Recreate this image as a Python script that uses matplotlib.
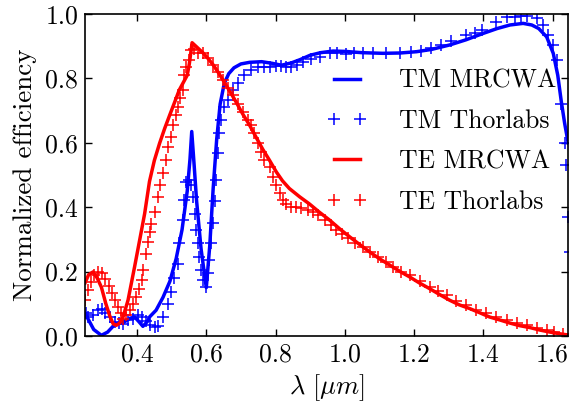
import matplotlib
matplotlib.use("Agg")
import matplotlib.pyplot as plt

plt.rcParams['font.family'] = 'serif'
plt.rcParams['font.serif'] = ['cmr10', 'DejaVu Serif']
plt.rcParams['mathtext.fontset'] = 'cm'
plt.rcParams['axes.formatter.use_mathtext'] = True
plt.rcParams['axes.unicode_minus'] = False

# TM MRCWA
tm_sim_x = [0.25, 0.26, 0.275, 0.297, 0.315, 0.335, 0.345, 0.355, 0.365, 0.38, 0.393, 0.405, 0.417,
            0.43, 0.437, 0.455, 0.475, 0.495, 0.513, 0.53, 0.545, 0.553, 0.558, 0.565, 0.572, 0.585,
            0.6, 0.61, 0.62, 0.63, 0.64, 0.652, 0.665, 0.68, 0.7, 0.725, 0.76, 0.79, 0.817, 0.845,
            0.87, 0.9, 0.93, 0.966, 1.0, 1.05, 1.11, 1.16, 1.207, 1.25, 1.303, 1.35, 1.4, 1.44,
            1.477, 1.515, 1.54, 1.56, 1.583, 1.602, 1.615, 1.625, 1.635, 1.645]
tm_sim_y = [0.07, 0.05, 0.02, 0.002, 0.012, 0.035, 0.04, 0.04, 0.045, 0.055, 0.059, 0.045, 0.03,
            0.045, 0.06, 0.08, 0.12, 0.17, 0.24, 0.33, 0.45, 0.55, 0.635, 0.53, 0.42, 0.27,
            0.15, 0.28, 0.46, 0.61, 0.72, 0.785, 0.815, 0.833, 0.845, 0.85, 0.852, 0.847, 0.841, 0.848,
            0.858, 0.872, 0.88, 0.885, 0.884, 0.88, 0.878, 0.879, 0.883, 0.89, 0.904, 0.92, 0.94, 0.955,
            0.966, 0.971, 0.966, 0.955, 0.929, 0.878, 0.81, 0.73, 0.66, 0.6]

# TM Thorlabs
tm_exp_x = [0.253, 0.258, 0.273, 0.287, 0.299, 0.308, 0.321, 0.335, 0.348, 0.36, 0.374, 0.389, 0.403,
            0.415, 0.426, 0.437, 0.451, 0.462, 0.475, 0.489, 0.498, 0.508, 0.517, 0.522, 0.532, 0.537,
            0.542, 0.551, 0.556, 0.561, 0.566, 0.571, 0.576, 0.58, 0.585, 0.59, 0.6, 0.604, 0.609,
            0.614, 0.619, 0.624, 0.629, 0.633, 0.638, 0.643, 0.652, 0.662, 0.677, 0.691, 0.71, 0.73,
            0.749, 0.768, 0.783, 0.8, 0.817, 0.831, 0.845, 0.862, 0.879, 0.903, 0.927, 0.956, 0.977,
            1.004, 1.028, 1.052, 1.081, 1.12, 1.159, 1.192, 1.221, 1.25, 1.279, 1.308, 1.351, 1.375,
            1.395, 1.438, 1.467, 1.491, 1.51, 1.525, 1.554, 1.573, 1.587, 1.602, 1.612, 1.625, 1.636,
            1.64, 1.645, 1.65]
tm_exp_y = [0.07, 0.059, 0.064, 0.08, 0.085, 0.07, 0.059, 0.044, 0.04, 0.038, 0.049, 0.054, 0.064,
            0.06, 0.045, 0.033, 0.028, 0.03, 0.059, 0.1, 0.137, 0.179, 0.225, 0.29, 0.36, 0.422,
            0.479, 0.484, 0.47, 0.432, 0.38, 0.33, 0.29, 0.246, 0.204, 0.173, 0.152, 0.195, 0.235,
            0.288, 0.35, 0.42, 0.484, 0.567, 0.629, 0.67, 0.712, 0.733, 0.764, 0.785, 0.81, 0.826,
            0.834, 0.836, 0.836, 0.838, 0.838, 0.836, 0.834, 0.842, 0.85, 0.859, 0.867, 0.88, 0.88,
            0.876, 0.878, 0.88, 0.878, 0.878, 0.879, 0.881, 0.885, 0.896, 0.904, 0.916, 0.935, 0.942,
            0.95, 0.976, 0.99, 0.992, 0.993, 0.995, 0.987, 0.966, 0.935, 0.904, 0.857, 0.72, 0.6,
            0.53, 0.37, 0.26]

# TE MRCWA
te_sim_x = [0.25, 0.26, 0.273, 0.285, 0.297, 0.31, 0.322, 0.331, 0.34, 0.35, 0.36, 0.374, 0.393,
            0.408, 0.422, 0.436, 0.45, 0.465, 0.48, 0.494, 0.51, 0.522, 0.535, 0.545, 0.551, 0.559,
            0.575, 0.59, 0.605, 0.62, 0.635, 0.65, 0.668, 0.686, 0.705, 0.725, 0.745, 0.763, 0.783,
            0.802, 0.82, 0.84, 0.87, 0.898, 0.926, 0.956, 0.985, 1.014, 1.043, 1.072, 1.1, 1.13,
            1.16, 1.188, 1.215, 1.245, 1.275, 1.303, 1.33, 1.361, 1.39, 1.418, 1.45, 1.477, 1.505,
            1.535, 1.565, 1.593, 1.62, 1.645]
te_sim_y = [0.165, 0.19, 0.199, 0.18, 0.152, 0.1, 0.06, 0.038, 0.033, 0.04, 0.06, 0.111, 0.215,
            0.3, 0.38, 0.48, 0.545, 0.598, 0.645, 0.685, 0.73, 0.764, 0.79, 0.81, 0.845, 0.911,
            0.895, 0.88, 0.862, 0.842, 0.818, 0.792, 0.76, 0.727, 0.69, 0.655, 0.615, 0.58, 0.545,
            0.51, 0.482, 0.458, 0.432, 0.41, 0.385, 0.36, 0.333, 0.308, 0.284, 0.261, 0.24, 0.22,
            0.2, 0.183, 0.165, 0.147, 0.128, 0.111, 0.097, 0.085, 0.072, 0.059, 0.049, 0.04, 0.032,
            0.026, 0.018, 0.012, 0.007, 0.003]

# TE Thorlabs
te_exp_x = [0.251, 0.258, 0.266, 0.276, 0.287, 0.299, 0.308, 0.318, 0.328, 0.335, 0.345, 0.353, 0.36,
            0.369, 0.379, 0.389, 0.398, 0.405, 0.413, 0.417, 0.427, 0.432, 0.437, 0.441, 0.451, 0.46,
            0.467, 0.474, 0.484, 0.489, 0.498, 0.503, 0.513, 0.517, 0.525, 0.532, 0.537, 0.542, 0.549,
            0.556, 0.565, 0.575, 0.59, 0.604, 0.619, 0.633, 0.648, 0.662, 0.677, 0.691, 0.705, 0.72,
            0.73, 0.739, 0.749, 0.758, 0.768, 0.783, 0.792, 0.802, 0.812, 0.821, 0.831, 0.845, 0.86,
            0.874, 0.893, 0.908, 0.922, 0.942, 0.96, 0.976, 0.992, 1.009, 1.03, 1.052, 1.072, 1.096,
            1.118, 1.139, 1.163, 1.188, 1.216, 1.245, 1.27, 1.294, 1.322, 1.351, 1.38, 1.409, 1.438,
            1.467, 1.496, 1.525, 1.554, 1.583, 1.605, 1.631]
te_exp_y = [0.111, 0.142, 0.168, 0.189, 0.199, 0.196, 0.178, 0.154, 0.132, 0.111, 0.09, 0.07, 0.054,
            0.064, 0.08, 0.1, 0.121, 0.147, 0.173, 0.204, 0.256, 0.292, 0.323, 0.349, 0.385, 0.432,
            0.47, 0.505, 0.546, 0.588, 0.619, 0.655, 0.686, 0.712, 0.74, 0.764, 0.81, 0.836, 0.857,
            0.888, 0.89, 0.878, 0.878, 0.862, 0.841, 0.821, 0.795, 0.769, 0.748, 0.722, 0.696, 0.67,
            0.655, 0.629, 0.598, 0.57, 0.546, 0.525, 0.494, 0.468, 0.443, 0.422, 0.409, 0.401, 0.401,
            0.399, 0.391, 0.385, 0.375, 0.36, 0.345, 0.329, 0.318, 0.303, 0.29, 0.277, 0.262, 0.246,
            0.23, 0.214, 0.2, 0.189, 0.17, 0.152, 0.14, 0.127, 0.11, 0.095, 0.082, 0.07, 0.06,
            0.049, 0.04, 0.033, 0.024, 0.018, 0.012, 0.007]

labels = ['TM MRCWA', 'TM Thorlabs', 'TE MRCWA', 'TE Thorlabs']
x_ticks = [0.4, 0.6, 0.8, 1.0, 1.2, 1.4, 1.6]
y_ticks = [0.0, 0.2, 0.4, 0.6, 0.8, 1.0]

fig = plt.figure(figsize=(5.71, 4.07), dpi=100)
ax = fig.add_axes([0.149, 0.1745, 0.846, 0.791])

ax.plot(tm_sim_x, tm_sim_y, '-', color='#0000ff', lw=2.5, label=labels[0])
ax.plot(tm_exp_x, tm_exp_y, '+', color='#0000ff', ms=8, mew=1.1, label=labels[1])
ax.plot(te_sim_x, te_sim_y, '-', color='#ff0000', lw=2.5, label=labels[2])
ax.plot(te_exp_x, te_exp_y, '+', color='#ff0000', ms=8, mew=1.1, label=labels[3])

ax.set_xlim(0.25, 1.645)
ax.set_ylim(0.0, 1.0)
ax.set_xticks(x_ticks)
ax.set_yticks(y_ticks)
ax.set_xticklabels([f'{v:.1f}' for v in x_ticks])
ax.set_yticklabels([f'{v:.1f}' for v in y_ticks])
ax.tick_params(direction='in', top=True, right=True, length=5, width=1, labelsize=18.5, pad=5)
for s in ax.spines.values():
    s.set_linewidth(1.2)

ax.set_xlabel(r'$\lambda\ [\mu m]$', fontsize=19, labelpad=4)
ax.set_ylabel('Normalized efficiency', fontsize=19.5, labelpad=6)

ax.legend(loc='upper left', bbox_to_anchor=(0.5, 0.83), frameon=False, fontsize=18.5,
          numpoints=2, handlelength=1.6, handletextpad=1.2, labelspacing=0.65, borderpad=0,
          borderaxespad=0)

fig.savefig('out.png', dpi=100)
